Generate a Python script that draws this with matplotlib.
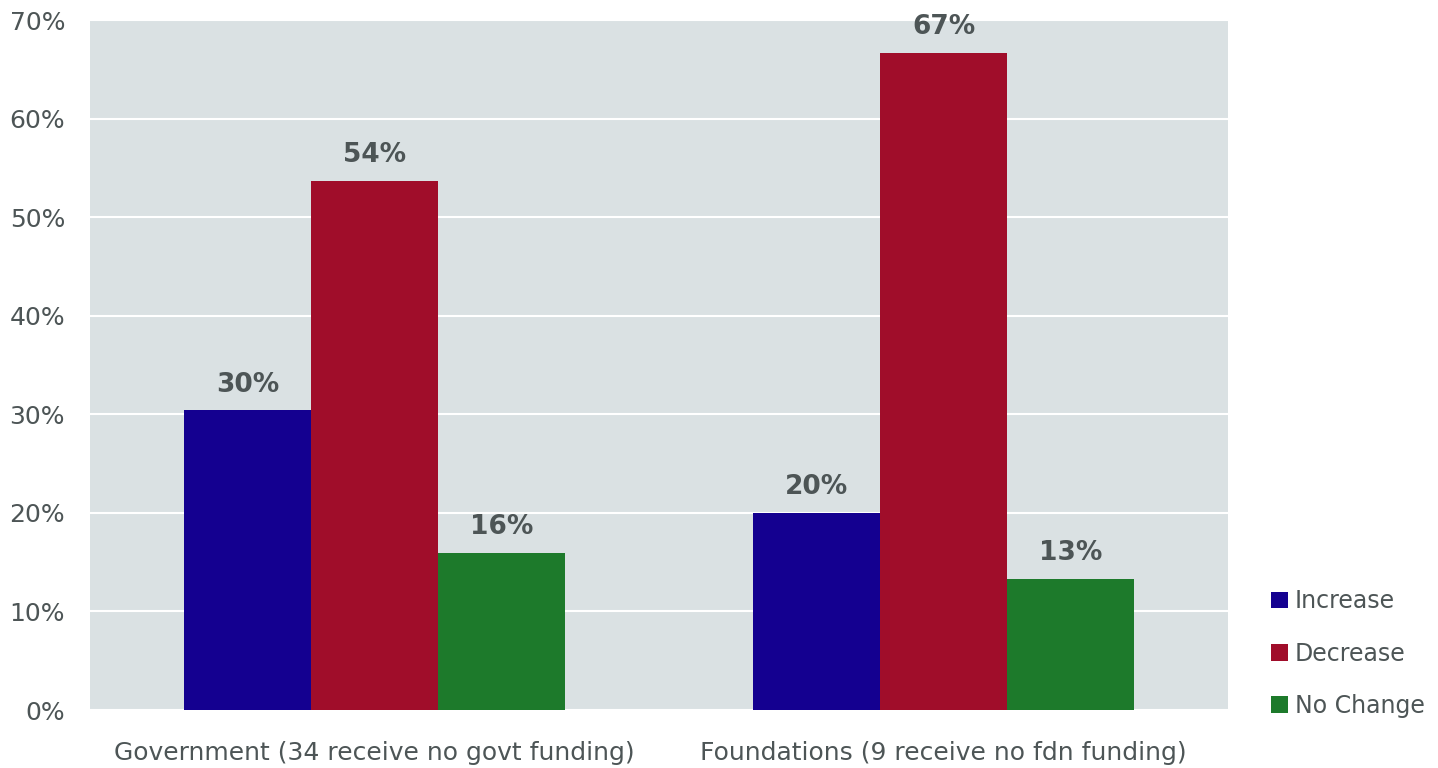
import numpy as np
from matplotlib import pyplot as plt

categories = ['Government (34 receive no govt funding)', 'Foundations (9 receive no fdn funding)']
series_names = ['Increase', 'Decrease', 'No Change']
increase = [30.4, 20.0]
decrease = [53.7, 66.7]
no_change = [15.9, 13.3]
y_ticks = [0, 10, 20, 30, 40, 50, 60, 70]

colors = ['#140090', '#A00D2A', '#1D7A2B']
text_color = '#4D5556'

plt.rcParams['font.family'] = ['DejaVu Sans']

fig = plt.figure(figsize=(14.38, 7.68), dpi=100)
ax = fig.add_axes([90 / 1438, 58 / 768, 1138 / 1438, 690 / 768])
ax.set_facecolor('#DAE1E3')

x = np.arange(len(categories))
width = 0.223
for i, (name, vals) in enumerate(zip(series_names, [increase, decrease, no_change])):
    bars = ax.bar(x + (i - 1) * width, vals, width, color=colors[i], label=name, zorder=3)
    for b, v in zip(bars, vals):
        ax.text(b.get_x() + b.get_width() / 2, v + 1.3, '%d%%' % round(v),
                ha='center', va='bottom', fontsize=19, fontweight='bold',
                color=text_color)

ax.set_xlim(-0.5, 1.5)
ax.set_ylim(0, 70)
ax.set_yticks(y_ticks)
ax.set_yticklabels(['%d%%' % t for t in y_ticks])
ax.set_xticks(x)
ax.set_xticklabels(categories)
ax.grid(axis='y', color='white', linewidth=1.5, zorder=1)
for s in ax.spines.values():
    s.set_visible(False)
ax.tick_params(axis='both', length=0, labelsize=18, colors=text_color)
ax.tick_params(axis='y', pad=18)
ax.tick_params(axis='x', pad=22)

fig.legend(loc='upper left', bbox_to_anchor=(1250 / 1438, 1 - 568 / 768), frameon=False,
           fontsize=17, labelcolor=text_color, handlelength=0.7, handleheight=0.7,
           handletextpad=0.3, labelspacing=1.2)

fig.savefig('out.png', dpi=100)
